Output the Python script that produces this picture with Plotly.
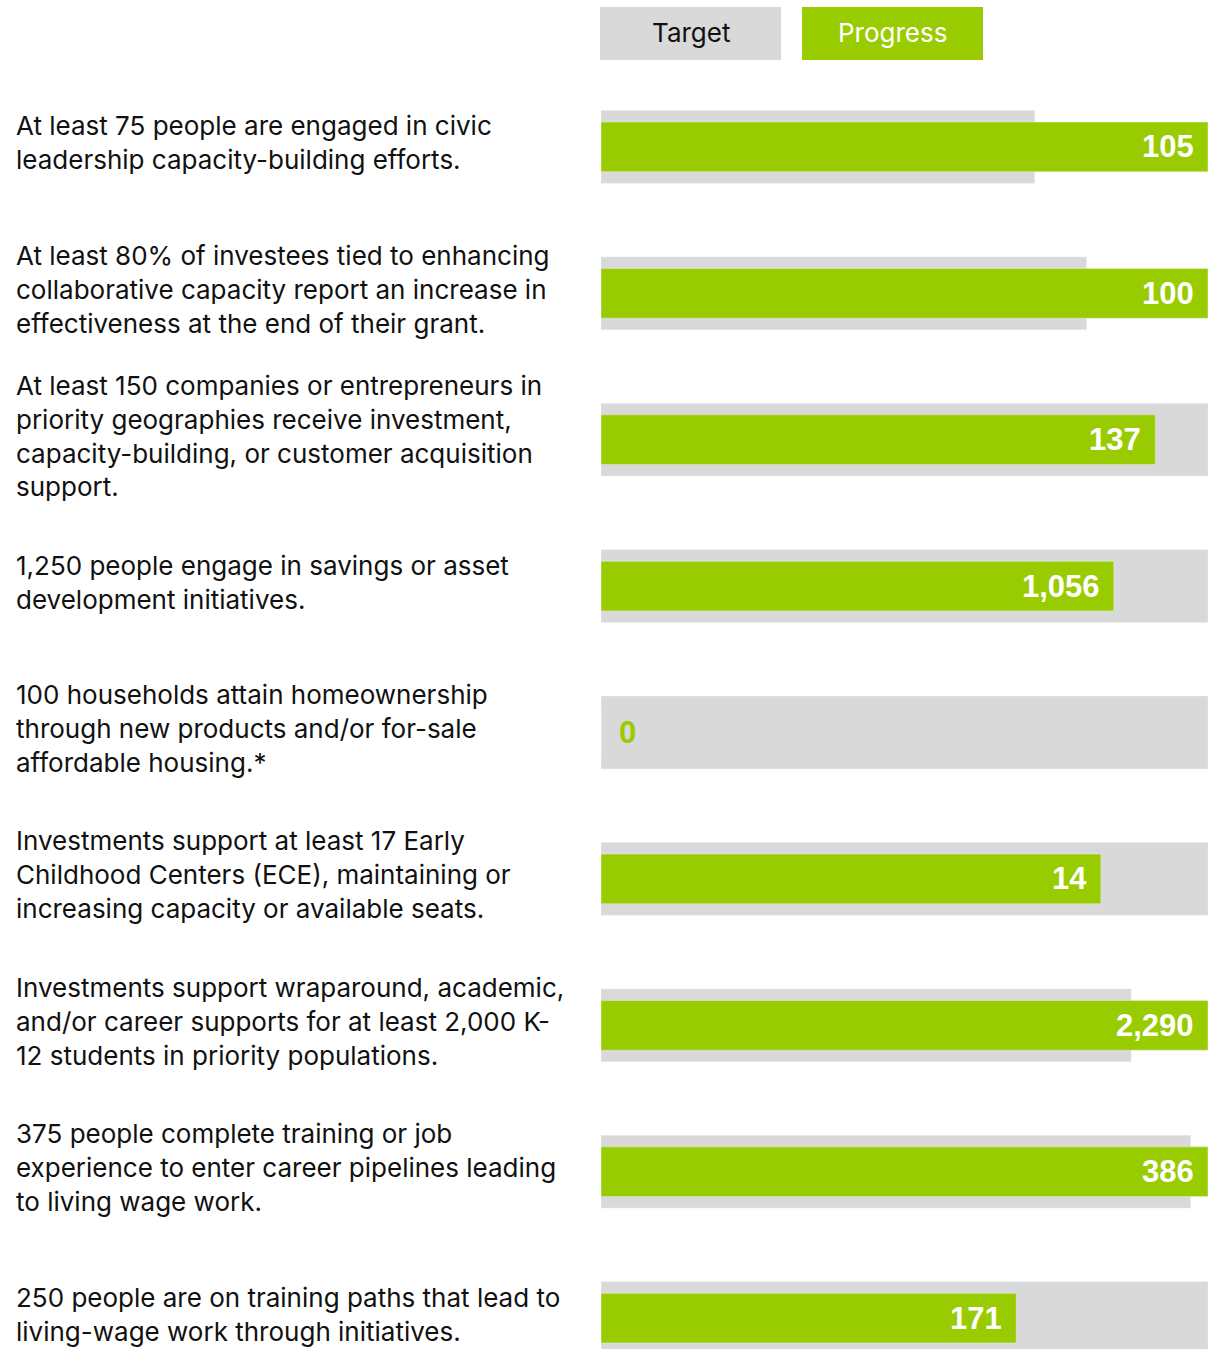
import plotly.graph_objects as go

# ---- data ----
goals = [
    "At least 75 people are engaged in civic<br>leadership capacity-building efforts.",
    "At least 80% of investees tied to enhancing<br>collaborative capacity report an increase in<br>effectiveness at the end of their grant.",
    "At least 150 companies or entrepreneurs in<br>priority geographies receive investment,<br>capacity-building, or customer acquisition<br>support.",
    "1,250 people engage in savings or asset<br>development initiatives.",
    "100 households attain homeownership<br>through new products and/or for-sale<br>affordable housing.*",
    "Investments support at least 17 Early<br>Childhood Centers (ECE), maintaining or<br>increasing capacity or available seats.",
    "Investments support wraparound, academic,<br>and/or career supports for at least 2,000 K-<br>12 students in priority populations.",
    "375 people complete training or job<br>experience to enter career pipelines leading<br>to living wage work.",
    "250 people are on training paths that lead to<br>living-wage work through initiatives.",
]
targets = [75, 80, 150, 1250, 100, 17, 2000, 375, 250]
progress = [105, 100, 137, 1056, 0, 14, 2290, 386, 171]
legend_labels = ["Target", "Progress"]

GREEN = "#99CC00"
GREY = "#D9D9D9"
TEXT = "#111111"
W, H = 1208, 1349

# each row is scaled to the larger of target / progress
scale = [max(t, p) for t, p in zip(targets, progress)]
target_frac = [t / s for t, s in zip(targets, scale)]
progress_frac = [p / s for p, s in zip(progress, scale)]

fig = go.Figure()
fig.add_trace(go.Bar(
    y=goals, x=target_frac, orientation="h", marker_color=GREY,
    width=0.497, hoverinfo="skip", showlegend=False,
))
fig.add_trace(go.Bar(
    y=goals, x=progress_frac, orientation="h", marker_color=GREEN,
    width=0.340, hoverinfo="skip", showlegend=False,
))

# value labels
val_font = dict(family="Liberation Sans", size=31, weight="bold")
for g, pf, p in zip(goals, progress_frac, progress):
    if p > 0:
        fig.add_annotation(x=pf, y=g, xref="x", yref="y", text=f"{p:,}",
                           xanchor="right", yanchor="middle", xshift=-12,
                           showarrow=False, font=dict(val_font, color="white"))
    else:
        fig.add_annotation(x=0, y=g, xref="x", yref="y", text=f"{p:,}",
                           xanchor="left", yanchor="middle", xshift=16,
                           showarrow=False, font=dict(val_font, color=GREEN))

# goal text on the left
for g in goals:
    fig.add_annotation(x=14 / W, y=g, xref="paper", yref="y", text=g,
                       xanchor="left", yanchor="middle", align="left",
                       showarrow=False, yshift=4,
                       font=dict(family="Inter", size=26, color=TEXT))

# custom legend boxes at top
boxes = [(600, 781, GREY, TEXT), (802, 983, GREEN, "white")]
for (x0, x1, fill, fc), lab in zip(boxes, legend_labels):
    fig.add_shape(type="rect", xref="paper", yref="paper",
                  x0=x0 / W, x1=x1 / W, y0=1 - 60 / H, y1=1 - 7 / H,
                  fillcolor=fill, line_width=0, layer="below")
    fig.add_annotation(xref="paper", yref="paper", x=(x0 + x1) / 2 / W,
                       y=1 - 33 / H, xanchor="center", yanchor="middle",
                       text=lab, showarrow=False,
                       font=dict(family="Inter", size=26, color=fc))

row_px = 146.4
top_val = -146.9 / row_px
bot_val = top_val + H / row_px

fig.update_layout(
    width=W, height=H,
    margin=dict(l=0, r=0, t=0, b=0),
    paper_bgcolor="white", plot_bgcolor="white",
    barmode="overlay",
    xaxis=dict(domain=[601 / W, 1], range=[0, 1], visible=False, fixedrange=True),
    yaxis=dict(type="category", range=[bot_val, top_val], visible=False,
               categoryorder="array", categoryarray=goals, fixedrange=True),
)

fig.write_html("out.html", config={"displayModeBar": False},
               post_script="document.body.style.margin='0';document.body.style.overflow='hidden';")
